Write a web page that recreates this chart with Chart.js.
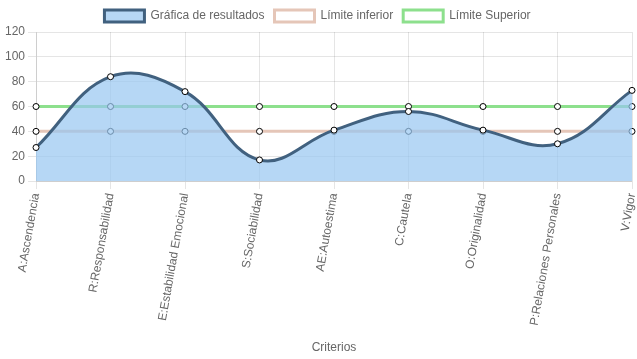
<!DOCTYPE html>
<html><head><meta charset="utf-8">
<script src="https://cdn.jsdelivr.net/npm/chart.js@4"></script>
<style>html,body{margin:0;padding:0;background:#fff}#w{width:637px;height:359px}</style>
</head><body><div id="w"><canvas id="c"></canvas></div>
<script>
const categories = ["A:Ascendencia","R:Responsabilidad","E:Estabilidad Emocional","S:Sociabilidad","AE:Autoestima","C:Cautela","O:Originalidad","P:Relaciones Personales","V:Vigor"];
const resultados = [27,84,72,17,41,56,41,30,73];
const limiteInferior = [40,40,40,40,40,40,40,40,40];
const limiteSuperior = [60,60,60,60,60,60,60,60,60];
const yTicks = {min:0,max:120,step:20};

Chart.defaults.font.family = "'Liberation Sans', Arial, sans-serif";
Chart.defaults.font.size = 12;
Chart.defaults.color = '#666';
new Chart(document.getElementById('c'), {
  type: 'line',
  data: {
    labels: categories,
    datasets: [
      {label:'Gráfica de resultados', data: resultados, fill:'origin', backgroundColor:'rgba(151,198,241,0.7)', borderColor:'#41617f', borderWidth:3, tension:0.4, pointBackgroundColor:'#fff', pointBorderColor:'#000', pointBorderWidth:1, pointRadius:3},
      {label:'Límite inferior', data: limiteInferior, fill:false, backgroundColor:'#fff', borderColor:'#e5c6b8', borderWidth:3, tension:0, pointBackgroundColor:'#fff', pointBorderColor:'#000', pointBorderWidth:1, pointRadius:3},
      {label:'Límite Superior', data: limiteSuperior, fill:false, backgroundColor:'#fff', borderColor:'#8de08d', borderWidth:3, tension:0, pointBackgroundColor:'#fff', pointBorderColor:'#000', pointBorderWidth:1, pointRadius:3}
    ]
  },
  options: {
    responsive:true, maintainAspectRatio:false, animation:false,
    layout:{padding:{right:4,left:2}},
    plugins:{legend:{labels:{boxWidth:40, boxHeight:12}}, tooltip:{enabled:false}},
    scales:{
      x:{title:{display:true,text:'Criterios',padding:{top:11,bottom:4}}, ticks:{maxRotation:90,minRotation:80}, grid:{color:'rgba(0,0,0,0.1)'},
         afterFit: s => { s.paddingRight = 0; }},
      y:{min:yTicks.min,max:yTicks.max,ticks:{stepSize:yTicks.step}, grid:{color:'rgba(0,0,0,0.1)'}}
    }
  }
});
</script></body></html>
